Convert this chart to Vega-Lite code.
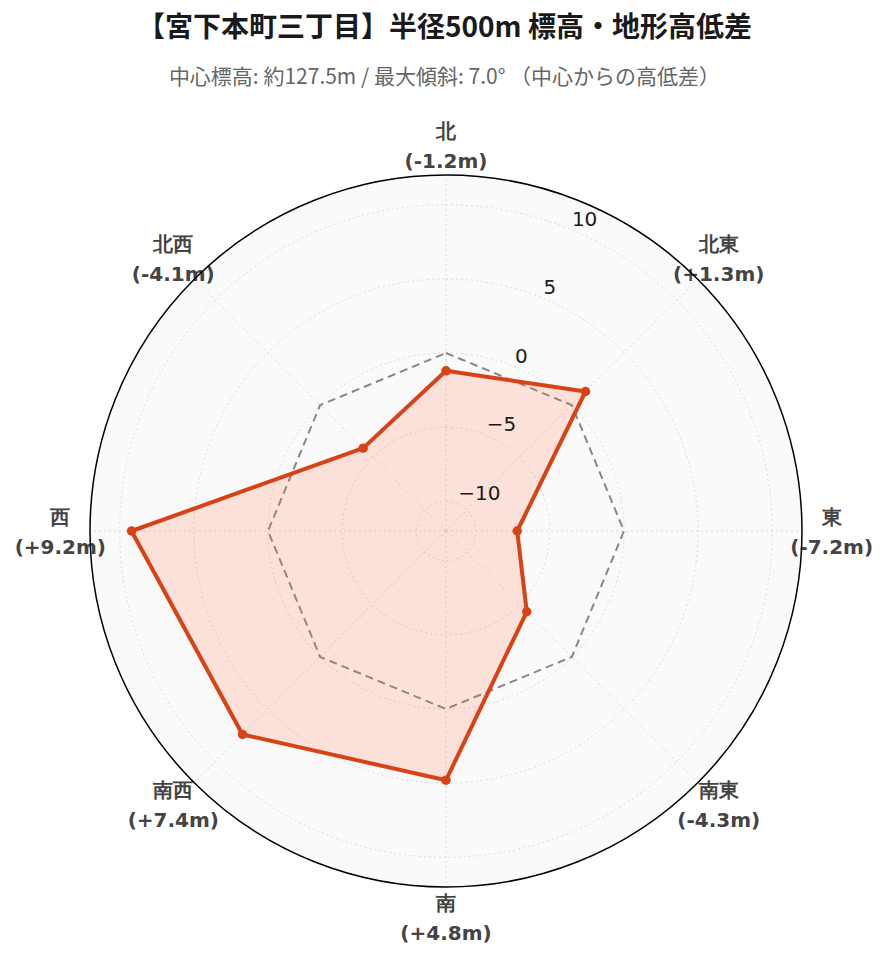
{
  "$schema": "https://vega.github.io/schema/vega-lite/v6.json",
  "width": 889,
  "height": 852,
  "autosize": "none",
  "padding": {"left": 0, "top": 110, "right": 0, "bottom": 0},
  "background": "white",
  "config": {"view": {"stroke": null}},
  "title": {
    "text": "【宮下本町三丁目】半径500m 標高・地形高低差",
    "subtitle": "中心標高: 約127.5m / 最大傾斜: 7.0° （中心からの高低差）",
    "anchor": "middle",
    "frame": "group",
    "font": "Noto Sans CJK JP",
    "fontSize": 28,
    "fontWeight": "bold",
    "color": "#1a1a1a",
    "subtitleFont": "Noto Sans CJK JP",
    "subtitleFontSize": 21,
    "subtitleColor": "#666666",
    "subtitlePadding": 24,
    "offset": 22
  },
  "datasets": {
    "dirs": [
      {"dir": "北", "angle": 0, "value": -1.2, "label": "北\n(-1.2m)"},
      {"dir": "北東", "angle": 45, "value": 1.3, "label": "北東\n(+1.3m)"},
      {"dir": "東", "angle": 90, "value": -7.2, "label": "東\n(-7.2m)"},
      {"dir": "南東", "angle": 135, "value": -4.3, "label": "南東\n(-4.3m)"},
      {"dir": "南", "angle": 180, "value": 4.8, "label": "南\n(+4.8m)"},
      {"dir": "南西", "angle": 225, "value": 7.4, "label": "南西\n(+7.4m)"},
      {"dir": "西", "angle": 270, "value": 9.2, "label": "西\n(+9.2m)"},
      {"dir": "北西", "angle": 315, "value": -4.1, "label": "北西\n(-4.1m)"}
    ],
    "ticks": [
      {"t": -10, "label": "−10"},
      {"t": -5, "label": "−5"},
      {"t": 0, "label": "0"},
      {"t": 5, "label": "5"},
      {"t": 10, "label": "10"}
    ],
    "rim": [{"t": 12}]
  },
  "encoding": {
    "x": {"field": "px", "type": "quantitative", "axis": null,
          "scale": {"domain": [-30.067, 29.865], "zero": false, "nice": false}},
    "y": {"field": "py", "type": "quantitative", "axis": null,
          "scale": {"domain": [-29.056, 28.382], "zero": false, "nice": false}}
  },
  "layer": [
    {
      "data": {"name": "rim"},
      "transform": [
        {"calculate": "datum.t + 12", "as": "r"},
        {"calculate": "0", "as": "px"},
        {"calculate": "0", "as": "py"}
      ],
      "mark": {"type": "arc", "theta": 0, "theta2": 6.2832, "fill": "#fafafa"},
      "encoding": {
        "radius": {"field": "r", "type": "quantitative", "legend": null, "stack": null,
                   "scale": {"type": "linear", "domain": [0, 24], "range": [0, 356], "zero": true, "nice": false}}
      }
    },
    {
      "data": {"name": "ticks"},
      "transform": [
        {"calculate": "datum.t + 12", "as": "r"},
        {"calculate": "0", "as": "px"},
        {"calculate": "0", "as": "py"}
      ],
      "mark": {"type": "arc", "theta": 0, "theta2": 6.2832, "fill": null, "stroke": "#d9d9d9", "strokeWidth": 1, "strokeDash": [2, 3]},
      "encoding": {
        "radius": {"field": "r", "type": "quantitative", "legend": null, "stack": null,
                   "scale": {"type": "linear", "domain": [0, 24], "range": [0, 356], "zero": true, "nice": false}}
      }
    },
    {
      "data": {"name": "dirs"},
      "transform": [
        {"calculate": "0", "as": "px"},
        {"calculate": "0", "as": "py"},
        {"calculate": "24 * sin(datum.angle * PI / 180)", "as": "ex"},
        {"calculate": "24 * cos(datum.angle * PI / 180)", "as": "ey"}
      ],
      "mark": {"type": "rule", "stroke": "#d9d9d9", "strokeWidth": 1, "strokeDash": [2, 3]},
      "encoding": {
        "x2": {"field": "ex"},
        "y2": {"field": "ey"}
      }
    },
    {
      "data": {"name": "dirs"},
      "transform": [
        {"calculate": "12 * sin(datum.angle * PI / 180)", "as": "px"},
        {"calculate": "12 * cos(datum.angle * PI / 180)", "as": "py"}
      ],
      "mark": {"type": "line", "interpolate": "linear-closed", "stroke": "#888888", "strokeWidth": 2, "strokeDash": [8, 5]},
      "encoding": {"order": {"field": "angle", "type": "quantitative"}}
    },
    {
      "data": {"name": "dirs"},
      "transform": [
        {"calculate": "(datum.value + 12) * sin(datum.angle * PI / 180)", "as": "px"},
        {"calculate": "(datum.value + 12) * cos(datum.angle * PI / 180)", "as": "py"}
      ],
      "mark": {"type": "line", "interpolate": "linear-closed", "stroke": "#d84315", "strokeWidth": 4, "fill": "#ff6e4a", "fillOpacity": 0.18, "strokeJoin": "round"},
      "encoding": {"order": {"field": "angle", "type": "quantitative"}}
    },
    {
      "data": {"name": "dirs"},
      "transform": [
        {"calculate": "(datum.value + 12) * sin(datum.angle * PI / 180)", "as": "px"},
        {"calculate": "(datum.value + 12) * cos(datum.angle * PI / 180)", "as": "py"}
      ],
      "mark": {"type": "point", "filled": true, "fill": "#d84315", "size": 90, "opacity": 1}
    },
    {
      "data": {"name": "ticks"},
      "transform": [
        {"calculate": "(datum.t + 12) * sin(22.5 * PI / 180)", "as": "px"},
        {"calculate": "(datum.t + 12) * cos(22.5 * PI / 180)", "as": "py"}
      ],
      "mark": {"type": "text", "align": "left", "baseline": "middle", "dx": 1, "dy": -10, "font": "DejaVu Sans", "fontSize": 20, "fill": "#1a1a1a"},
      "encoding": {"text": {"field": "label"}}
    },
    {
      "data": {"name": "dirs"},
      "transform": [
        {"calculate": "26 * sin(datum.angle * PI / 180)", "as": "px"},
        {"calculate": "26 * cos(datum.angle * PI / 180)", "as": "py"}
      ],
      "mark": {"type": "text", "align": "center", "baseline": "middle", "lineBreak": "\n", "lineHeight": 30, "dy": -13, "font": "DejaVu Sans", "fontWeight": "bold", "fontSize": 20, "fill": "#444444"},
      "encoding": {"text": {"field": "label"}}
    },
    {
      "data": {"name": "rim"},
      "transform": [
        {"calculate": "datum.t + 12", "as": "r"},
        {"calculate": "0", "as": "px"},
        {"calculate": "0", "as": "py"}
      ],
      "mark": {"type": "arc", "theta": 0, "theta2": 6.2832, "fill": null, "stroke": "#000000", "strokeWidth": 1.5},
      "encoding": {
        "radius": {"field": "r", "type": "quantitative", "legend": null, "stack": null,
                   "scale": {"type": "linear", "domain": [0, 24], "range": [0, 356], "zero": true, "nice": false}}
      }
    }
  ]
}
